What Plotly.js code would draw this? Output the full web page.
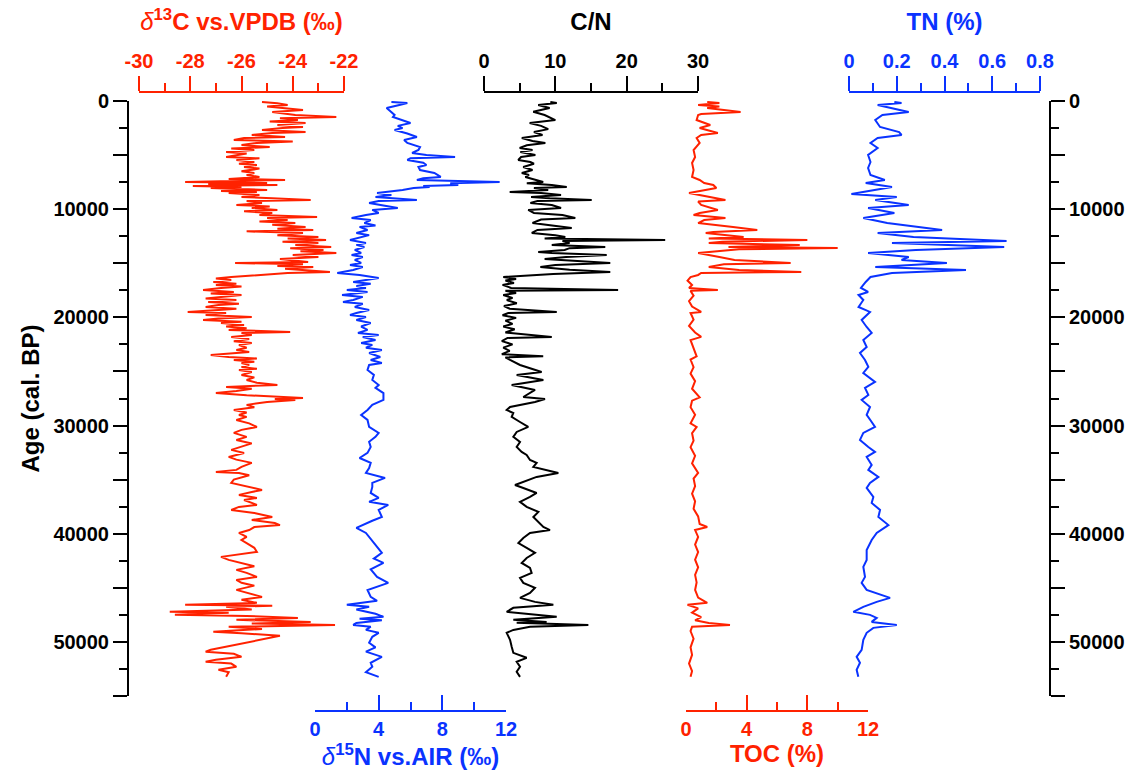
<!DOCTYPE html>
<html>
<head>
<meta charset="utf-8">
<script src="https://cdn.plot.ly/plotly-3.0.1.min.js"></script>
<style>html,body{margin:0;padding:0;background:#fff;}#chart{width:1131px;height:772px;}</style>
</head>
<body>
<div id="chart"></div>
<script>
// ---------------- DATA ----------------
const d13cAge = [90,200,370,500,650,830,1020,1290,1480,1600,1760,1900,2030,2220,2400,2500,2680,2870,2960,3140,3330,3420,3600,3750,3880,4070,4250,4400,4530,4710,4850,4990,5180,5300,5450,5640,5800,5910,6100,6250,6380,6500,6650,6840,7020,7200,7300,7400,7490,7580,7700,7760,7850,7950,8040,8230,8320,8410,8500,8690,8870,9000,9150,9250,9430,9610,9750,9890,10070,10200,10350,10540,10720,10810,11000,11150,11280,11450,11640,11800,11920,12050,12200,12400,12570,12700,12850,13000,13120,13300,13490,13600,13770,13900,14050,14230,14420,14600,14880,14970,15100,15250,15340,15500,15800,15900,16080,16270,16400,16540,16730,16900,17000,17150,17280,17470,17650,17800,17930,18110,18250,18390,18580,18750,18850,19040,19200,19320,19500,19600,19780,19960,20100,20240,20400,20520,20700,20850,21000,21160,21350,21440,21630,21810,22000,22200,22370,22550,22800,23010,23200,23470,23660,23800,23940,24100,24210,24400,24580,24750,24860,25050,25320,25550,25790,26050,26250,26430,26600,26800,26990,27200,27450,27540,27630,27820,28090,28300,28560,28800,29020,29200,29480,29800,30130,30400,30680,31050,31330,31650,31980,32250,32530,32900,33150,33450,33820,34100,34290,34380,34600,34750,35000,35300,35600,35950,36140,36410,36690,36880,37150,37340,37520,37800,38080,38450,38730,39010,39200,39380,39660,39930,40300,40580,40860,41300,41680,41900,42140,42420,42700,43000,43340,43620,43990,44270,44540,44800,45190,45470,45840,46100,46390,46570,46650,46760,47000,47220,47310,47500,47600,47780,47960,48150,48300,48430,48520,48610,48800,49070,49200,49440,50730,50910,51100,51380,51650,51840,52000,52300,52580,52800,53230];
const d13cVal = [-25.2,-24.6,-24.2,-25.0,-24.4,-23.6,-24.8,-23.9,-22.3,-24.5,-23.8,-24.9,-23.5,-24.6,-23.6,-24.4,-25.2,-23.5,-24.8,-25.6,-24.3,-25.9,-26.3,-24.0,-25.4,-26.0,-24.9,-26.4,-25.5,-26.6,-25.8,-26.2,-26.6,-25.3,-26.2,-25.5,-26.1,-25.4,-25.9,-25.3,-25.7,-26.0,-25.5,-25.8,-25.3,-26.5,-24.3,-27.5,-28.2,-25.0,-27.3,-24.6,-27.9,-26.0,-27.2,-25.0,-26.8,-25.4,-26.5,-25.3,-26.0,-24.8,-23.3,-25.8,-25.2,-26.2,-24.9,-25.6,-24.6,-25.9,-24.8,-25.3,-23.05,-25.0,-24.2,-25.3,-23.9,-24.8,-23.5,-24.6,-23.2,-25.8,-23.6,-24.6,-23.0,-24.2,-22.7,-24.4,-23.0,-23.9,-22.5,-24.1,-22.8,-23.7,-22.3,-24.0,-23.0,-24.5,-23.4,-26.25,-23.6,-24.6,-23.2,-24.3,-22.55,-24.2,-25.5,-26.4,-27.0,-26.4,-27.1,-26.2,-27.0,-26.0,-26.8,-27.5,-26.3,-27.2,-26.0,-26.8,-27.4,-26.2,-27.3,-26.1,-26.9,-27.4,-26.2,-26.9,-28.1,-26.6,-27.4,-25.6,-26.9,-27.5,-26.0,-26.8,-25.9,-26.6,-25.8,-26.5,-24.1,-26.0,-25.6,-26.4,-25.7,-26.3,-25.6,-26.1,-25.8,-26.2,-25.7,-27.2,-26.5,-25.4,-26.3,-25.5,-26.0,-25.7,-26.0,-25.4,-26.1,-25.6,-26.0,-25.5,-25.8,-25.4,-24.6,-26.6,-25.6,-26.2,-27.0,-25.8,-23.6,-24.7,-23.9,-25.0,-25.8,-25.5,-26.3,-25.8,-26.1,-25.8,-26.2,-25.7,-25.4,-26.0,-26.3,-25.8,-26.2,-25.6,-26.0,-26.4,-25.9,-26.5,-26.2,-25.6,-26.0,-26.2,-27.0,-26.1,-25.7,-25.9,-26.3,-26.4,-25.8,-25.2,-25.6,-26.1,-25.4,-25.9,-25.6,-25.4,-26.1,-26.4,-25.5,-24.8,-25.6,-24.7,-24.5,-25.5,-25.7,-26.1,-25.8,-26.0,-25.8,-25.5,-25.4,-26.0,-26.8,-26.5,-26.0,-25.5,-26.2,-25.8,-25.4,-26.2,-26.0,-25.5,-26.2,-25.8,-25.2,-26.0,-25.4,-28.2,-24.8,-26.6,-25.6,-28.8,-26.5,-28.6,-25.8,-23.8,-26.2,-23.3,-25.6,-22.35,-25.0,-26.5,-25.2,-27.1,-26.0,-24.5,-27.2,-27.4,-26.3,-26.0,-27.0,-27.4,-26.4,-26.2,-26.9,-26.5,-26.6];

const d15nAge = [90,180,370,650,900,1290,1480,1760,2030,2300,2500,2680,3000,3330,3600,3880,4250,4530,4800,5000,5180,5300,5450,5700,5910,6100,6380,6650,7020,7150,7300,7490,7600,7760,7850,7950,8040,8230,8410,8500,8690,8870,9150,9250,9430,9610,9890,10070,10350,10540,10810,11000,11280,11500,11640,11920,12200,12400,12570,12850,13120,13300,13490,13770,14050,14230,14420,14690,14970,15160,15340,15620,15900,16080,16360,16540,16730,16900,17100,17280,17470,17650,17930,18110,18390,18580,18750,19040,19320,19600,19780,19960,20240,20520,20850,21160,21440,21630,21810,22100,22370,22550,22800,23010,23300,23660,23940,24210,24400,24860,25320,25790,26250,26520,27000,27630,28090,28560,29020,29480,30130,30680,31050,31500,31980,32530,33000,33450,33920,34380,34840,35300,35670,36230,36690,37050,37340,37800,38450,38800,39460,39930,40500,41100,41770,42300,42700,43300,43990,44540,45200,45840,46200,46570,46760,47000,47400,47680,47850,48000,48250,48430,48600,48890,49160,49530,50080,50500,50900,51380,51930,52300,52800,53230];
const d15nVal = [4.8,5.8,5.3,4.5,4.7,5.0,4.9,5.4,6.0,5.2,5.5,5.0,5.8,6.4,5.6,5.8,6.6,6.5,6.1,7.0,8.8,6.0,5.8,6.8,7.0,6.5,6.6,7.5,7.9,6.8,6.4,11.6,8.5,9.0,6.8,7.2,6.2,5.5,4.2,3.9,4.8,3.8,6.4,4.0,3.4,4.2,5.2,3.6,4.0,3.2,2.3,3.5,3.1,3.8,2.8,3.3,2.6,3.4,2.9,2.2,3.2,2.6,3.1,2.5,2.9,2.3,3.0,2.5,2.9,2.2,3.0,2.4,1.4,2.8,4.0,3.2,2.4,3.5,2.6,3.2,2.0,3.3,1.7,3.0,2.4,1.76,3.0,2.5,3.4,2.6,2.2,3.2,2.6,3.5,2.9,3.3,2.7,4.0,3.0,3.8,2.9,3.6,3.2,4.2,3.4,4.1,3.5,4.2,3.4,3.3,3.7,3.6,4.0,3.8,4.3,4.3,3.6,3.3,2.9,3.3,3.4,4.0,3.8,3.4,3.5,3.3,2.8,3.5,3.4,3.2,4.4,3.6,3.6,3.5,4.0,3.4,4.6,4.0,4.2,3.6,2.6,3.2,3.5,3.8,4.2,3.7,4.3,3.5,3.9,4.6,3.3,3.5,3.9,2.0,3.4,2.6,3.8,4.3,2.8,4.2,2.6,2.4,3.5,3.2,4.0,3.6,3.4,3.8,3.2,4.2,3.5,3.6,3.2,4.0];

const cnAge = [90,180,370,650,1000,1300,1760,2030,2300,2600,2870,3140,3420,3700,3880,4100,4340,4530,4710,4990,5180,5450,5640,5800,6100,6380,6650,6840,7020,7300,7490,7600,7760,7950,8040,8230,8410,8500,8690,8870,9000,9150,9250,9430,9610,9890,10070,10350,10540,10810,10950,11280,11500,11740,11920,12200,12400,12570,12700,12850,12950,13120,13300,13490,13600,13770,13960,14050,14230,14420,14600,14970,15160,15340,15600,15800,16000,16270,16450,16600,16820,17000,17280,17470,17550,17750,17930,18200,18400,18700,18950,19200,19500,19600,19800,20050,20300,20600,20850,21100,21400,21810,21900,22200,22500,22800,23100,23400,23600,23700,23940,24400,25050,25320,25790,26250,26710,26990,27360,27540,27820,28280,28560,28840,29200,29670,30130,30590,31050,31520,31980,32440,32720,33180,33450,33820,34100,34380,34750,35210,35490,35770,36230,36600,37060,37520,37980,38450,38910,39380,39660,39930,40390,40860,41310,41770,42240,42700,43160,43620,44080,44540,45000,45470,45930,46300,46570,46850,47220,47500,47680,47960,48150,48240,48430,48610,48890,49160,49810,50450,51010,51470,51840,52300,52760,53230];
const cnVal = [9.3,10.2,7.6,9.2,6.9,8.5,10.0,6.4,8.0,9.0,7.0,8.2,5.3,6.8,8.6,6.0,5.0,6.8,5.1,7.2,5.2,4.8,6.5,7.0,5.5,6.8,5.3,6.3,5.8,7.5,8.3,6.0,9.5,11.6,7.0,9.0,3.6,8.0,10.8,6.6,9.2,15.1,7.5,6.5,9.5,10.8,6.2,7.0,11.0,12.8,8.0,6.8,9.5,12.3,7.5,6.7,10.0,11.4,8.5,25.4,11.0,12.0,9.5,17.0,12.0,11.3,7.6,9.5,17.2,11.5,8.5,17.7,10.0,7.9,12.0,17.7,9.7,2.7,4.5,3.0,4.2,2.6,3.8,18.8,3.0,4.5,2.7,4.0,3.2,4.6,2.8,3.6,10.2,3.4,2.6,4.5,3.0,4.0,2.7,4.3,3.0,9.5,3.3,2.5,4.0,2.7,3.6,2.5,8.3,3.0,3.65,5.05,8.08,4.58,8.32,3.88,7.15,6.45,5.51,8.55,7.15,3.65,3.18,4.11,3.88,5.05,6.2,4.58,4.11,5.05,4.58,5.28,5.98,6.45,7.38,6.92,8.55,10.42,7.38,5.51,4.35,5.51,7.38,6.45,5.05,5.98,7.62,6.92,7.62,8.32,9.25,6.45,5.51,4.82,5.98,7.15,5.98,5.28,6.45,6.68,5.05,5.51,7.15,6.45,5.05,7.15,9.72,4.11,3.18,7.62,10.19,4.11,8.78,4.58,14.63,6.45,4.11,3.18,3.65,3.88,4.11,5.98,4.58,5.05,4.58,5.05];

const tocAge = [90,180,370,500,650,1020,1200,1290,1760,2030,2220,2500,2960,3140,3420,3880,4530,5180,5730,6380,7020,7300,7580,7760,8040,8500,8870,9150,9300,9610,10070,10350,10540,10810,11000,11280,11640,11920,12100,12200,12570,12700,12850,13000,13120,13310,13490,13590,13700,13960,14050,14420,14690,14970,15100,15340,15620,15800,15900,16080,16270,16600,17000,17280,17470,17550,18000,18500,19000,19500,19600,20200,20800,21400,21800,22100,22800,23600,23900,24600,25200,25900,26600,27400,27700,28300,29000,29800,30130,30700,31400,32000,32800,33500,34380,34900,35600,36300,37000,37700,38400,39100,39380,39660,40300,41000,41700,42400,43100,43800,44500,45200,45900,46390,46570,46900,47300,47700,48000,48250,48430,48600,49000,49700,50500,51200,52000,52700,53230];
const tocVal = [1.4,2.2,0.8,2.2,1.4,3.6,1.0,0.8,0.7,1.2,1.6,0.9,2.1,1.0,0.7,0.9,0.5,0.6,0.4,0.5,0.4,0.9,1.2,1.8,2.0,0.2,1.6,2.6,0.8,1.0,2.1,0.9,0.5,2.6,1.2,0.8,3.1,4.7,1.8,1.3,3.8,1.5,8.0,2.4,1.5,7.5,2.8,10.0,3.5,1.5,0.8,2.2,3.2,6.9,2.5,1.5,3.5,7.6,1.0,0.8,0.3,0.1,0.4,0.2,2.1,0.3,0.5,0.2,0.4,1.0,0.3,0.5,0.2,0.6,1.0,0.3,0.5,0.7,0.3,0.5,0.3,0.6,0.4,0.9,0.4,0.3,0.6,0.3,0.7,0.4,0.5,0.3,0.6,0.4,0.8,0.5,0.6,0.4,0.6,0.5,0.8,0.9,1.4,0.6,0.8,0.6,0.8,0.6,0.8,0.6,0.7,0.6,0.8,1.4,0.1,0.8,0.4,1.0,0.6,1.5,2.9,0.4,0.3,0.5,0.3,0.4,0.2,0.4,0.3];

const tnAge = [90,180,370,650,1020,1290,1760,2400,2870,3140,3420,3880,4340,4990,5640,6190,6840,7300,7580,7950,8230,8600,8870,9150,9610,9890,10350,10810,11280,11640,11920,12200,12570,12940,13120,13490,13770,14050,14420,14690,14970,15340,15620,15900,16270,16730,17280,17650,17930,18390,19040,19500,20240,20890,21440,22090,22740,23290,23940,24580,25140,25970,26520,27170,27630,28280,29020,29670,30130,30680,31330,31980,32440,32900,33640,34100,34750,35300,35770,36600,37150,37800,38450,39200,39930,40580,41500,42420,43070,43990,44540,45190,45930,46300,46760,47220,47500,47780,48150,48430,48700,49160,49810,50730,51380,51930,52580,53230];
const tnVal = [0.19,0.22,0.12,0.18,0.25,0.14,0.11,0.13,0.21,0.22,0.12,0.09,0.12,0.08,0.09,0.08,0.09,0.15,0.07,0.18,0.11,0.01,0.20,0.11,0.25,0.08,0.19,0.06,0.16,0.30,0.39,0.12,0.27,0.66,0.18,0.65,0.28,0.08,0.25,0.22,0.41,0.11,0.49,0.18,0.09,0.07,0.05,0.08,0.04,0.06,0.04,0.088,0.053,0.074,0.095,0.06,0.074,0.046,0.067,0.081,0.06,0.109,0.067,0.081,0.053,0.088,0.074,0.095,0.109,0.06,0.046,0.081,0.109,0.074,0.095,0.081,0.123,0.088,0.074,0.102,0.095,0.13,0.123,0.165,0.116,0.095,0.074,0.074,0.06,0.067,0.053,0.074,0.172,0.116,0.06,0.018,0.088,0.116,0.095,0.2,0.102,0.074,0.06,0.053,0.032,0.046,0.032,0.039];

// Axis tick labels
const d13cTickVals = [-30,-28,-26,-24,-22];
const d13cTickText = ['-30','-28','-26','-24','-22'];

// ---------------- STYLE ----------------
const RED = '#ff2200', BLUE = '#0a33ff', BLACK = '#000000';
const FONT = 'Liberation Sans, Arial, sans-serif';
const W = 1131, H = 772;
const M = {l: 128, r: 81, t: 60, b: 52};
const pw = W - M.l - M.r, ph = H - M.t - M.b;
const fx = px => (px - M.l) / pw;          // pixel -> paper x
const fy = py => (H - M.b - py) / ph;      // pixel -> paper y
const TOP = fy(92), BOT = fy(711);
const TICKSIZE = 20, TITLESIZE = 24;

function xax(color, domPx, range, dtick, minorDtick, side, title) {
  const top = side === 'top';
  return {
    domain: [fx(domPx[0]), fx(domPx[1])], range: range, anchor: 'free',
    position: top ? TOP : BOT, side: side,
    showgrid: false, zeroline: false, showline: true, linecolor: color, linewidth: 2,
    ticks: top ? 'outside' : 'inside', ticklen: 15, tickwidth: 2, tickcolor: color,
    dtick: dtick, tick0: range[0],
    minor: {dtick: minorDtick, tick0: range[0], ticks: top ? 'outside' : 'inside', ticklen: 8, tickwidth: 2, tickcolor: color},
    tickfont: {family: FONT, size: TICKSIZE, color: color, weight: 'bold'},
    title: {text: title, font: {family: FONT, size: TITLESIZE, color: color, weight: 'bold'}, standoff: top ? 12 : 2},
    automargin: false, fixedrange: true
  };
}

function yax(side) {
  return {
    domain: [fy(696), fy(101)], range: [55000, 0], autorange: false,
    anchor: 'free', position: side === 'left' ? 0 : 1, side: side,
    showgrid: false, zeroline: false, showline: true, linecolor: BLACK, linewidth: 2,
    tickmode: 'linear', tick0: 0, dtick: 5000, ticklabelstep: 2, tickformat: 'd',
    ticks: 'outside', ticklen: 14, tickwidth: 2, tickcolor: BLACK,
    minor: {tickmode: 'linear', tick0: 0, dtick: 2500, ticks: 'outside', ticklen: 8, tickwidth: 2, tickcolor: BLACK},
    tickfont: {family: FONT, size: TICKSIZE, color: BLACK, weight: 'bold'},
    automargin: false, fixedrange: true
  };
}

const traces = [
  {x: d13cVal, y: d13cAge, xaxis: 'x', yaxis: 'y', mode: 'lines', line: {color: RED, width: 2}, hoverinfo: 'skip'},
  {x: d15nVal, y: d15nAge, xaxis: 'x2', yaxis: 'y', mode: 'lines', line: {color: BLUE, width: 2}, hoverinfo: 'skip'},
  {x: cnVal, y: cnAge, xaxis: 'x3', yaxis: 'y', mode: 'lines', line: {color: BLACK, width: 2}, hoverinfo: 'skip'},
  {x: tocVal, y: tocAge, xaxis: 'x4', yaxis: 'y', mode: 'lines', line: {color: RED, width: 2}, hoverinfo: 'skip'},
  {x: tnVal, y: tnAge, xaxis: 'x5', yaxis: 'y2', mode: 'lines', line: {color: BLUE, width: 2}, hoverinfo: 'skip'}
];

const yl = yax('left');
yl.title = {text: 'Age (cal. BP)', font: {family: FONT, size: TITLESIZE, color: BLACK, weight: 'bold'}, standoff: 6};
const yr = yax('right');
yr.overlaying = 'y';

const x1 = xax(RED, [139, 344], [-30, -22], 2, 1, 'top', '<i style="font-weight:normal">δ</i><sup>13</sup>C vs.VPDB (‰)');
x1.tickmode = 'array'; x1.tickvals = d13cTickVals; x1.ticktext = d13cTickText;

const layout = {
  width: W, height: H, margin: M, showlegend: false,
  paper_bgcolor: '#ffffff', plot_bgcolor: 'rgba(0,0,0,0)',
  font: {family: FONT, weight: 'bold'},
  xaxis:  x1,
  xaxis2: xax(BLUE,  [315, 506], [0, 12], 4, 2, 'bottom', '<i style="font-weight:normal">δ</i><sup>15</sup>N vs.AIR (‰)'),
  xaxis3: xax(BLACK, [484, 698], [0, 30], 10, 5, 'top', 'C/N'),
  xaxis4: xax(RED,   [686, 868], [0, 12], 4, 2, 'bottom', 'TOC (%)'),
  xaxis5: xax(BLUE,  [849, 1040], [0, 0.8], 0.2, 0.1, 'top', 'TN (%)'),
  yaxis: yl,
  yaxis2: yr
};

Plotly.newPlot('chart', traces, layout, {staticPlot: true, displayModeBar: false});
</script>
</body>
</html>
